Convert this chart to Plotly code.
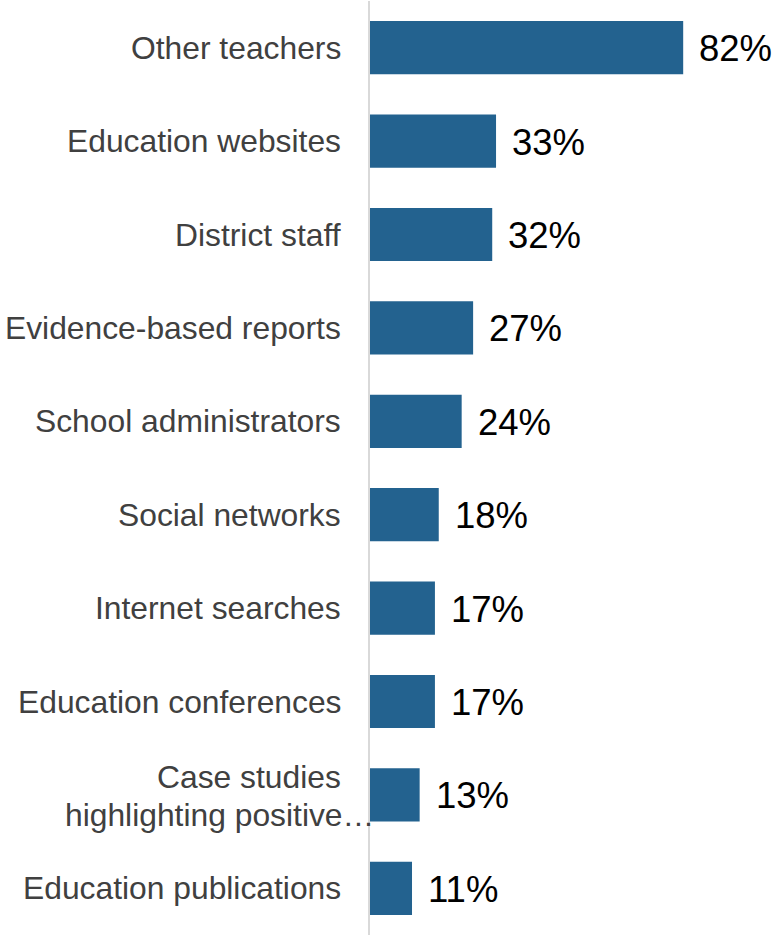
import plotly.graph_objects as go

categories = ["Other teachers", "Education websites", "District staff", "Evidence-based reports",
              "School administrators", "Social networks", "Internet searches",
              "Education conferences", "Case studies highlighting positive…", "Education publications"]
# each category label as displayed (lines of the wrapped label)
label_lines = [["Other teachers"], ["Education websites"], ["District staff"],
               ["Evidence-based reports"], ["School administrators"], ["Social networks"],
               ["Internet searches"], ["Education conferences"],
               ["Case studies", "highlighting positive…"], ["Education publications"]]
values = [82, 33, 32, 27, 24, 18, 17, 17, 13, 11]
value_labels = [f"{v}%" for v in values]

LABEL_FONT = dict(size=31.8, color="#404040", family="Liberation Sans, Arial")
VALUE_FONT = dict(size=36.5, color="#000000", family="Liberation Sans, Arial")

fig = go.Figure()
fig.add_trace(go.Bar(
    x=values, y=categories, orientation="h",
    marker=dict(color="#23628f", line=dict(width=0)),
    width=0.57, hoverinfo="skip",
))
for c, v, t in zip(categories, values, value_labels):
    fig.add_annotation(x=v, y=c, text=t, showarrow=False, xanchor="left", xshift=14, yshift=-1,
                       font=VALUE_FONT)

for c, lines in zip(categories, label_lines):
    if len(lines) == 1:
        fig.add_annotation(xref="paper", x=0, y=c, text=lines[0], showarrow=False,
                           xanchor="right", xshift=-27, font=LABEL_FONT)
    else:
        fig.add_annotation(xref="paper", x=0, y=c, text=lines[0], showarrow=False,
                           xanchor="right", xshift=-27, yshift=18, font=LABEL_FONT)
        fig.add_annotation(xref="paper", x=0, y=c, text=lines[1], showarrow=False,
                           xanchor="right", xshift=6, yshift=-20, font=LABEL_FONT)

fig.update_layout(
    width=776, height=935,
    margin=dict(l=370, r=0, t=1, b=0),
    paper_bgcolor="white", plot_bgcolor="white",
    showlegend=False,
    xaxis=dict(range=[0, 106.3], visible=False, fixedrange=True),
    yaxis=dict(
        categoryorder="array", categoryarray=categories, autorange="reversed",
        showticklabels=False, ticks="", fixedrange=True,
        showline=True, linecolor="#d9d9d9", linewidth=2,
        showgrid=False, zeroline=False,
    ),
)
fig.write_html("out.html", config={"displayModeBar": False},
               post_script="document.body.style.margin='0';")
